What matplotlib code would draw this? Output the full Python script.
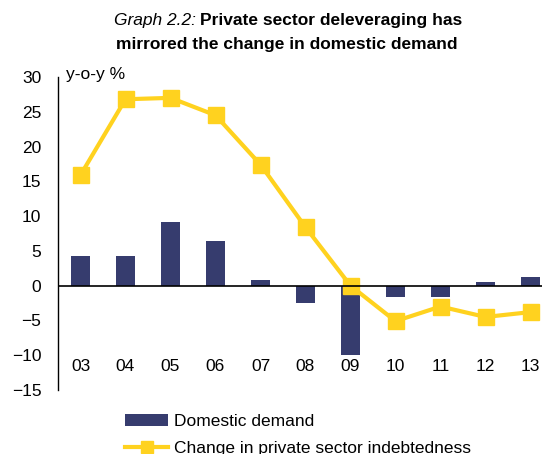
import numpy as np
import matplotlib.pyplot as plt

plt.rcParams['font.family'] = ['Liberation Sans', 'DejaVu Sans']

years = ['03', '04', '05', '06', '07', '08', '09', '10', '11', '12', '13']
dom_demand = [4.3, 4.2, 9.1, 6.4, 0.8, -2.5, -10.0, -1.7, -1.6, 0.5, 1.3]
priv_debt = [15.9, 26.8, 27.0, 24.5, 17.4, 8.4, 0.0, -5.1, -3.0, -4.5, -3.8]

W, H = 542, 454
fig = plt.figure(figsize=(W / 100, H / 100), dpi=100)
ax = fig.add_axes([58 / W, (H - 390) / H, 1 - 58 / W, (390 - 77) / H])

x = np.arange(len(years))
bars = ax.bar(x, dom_demand, width=0.42, color='#363c6e', zorder=2)
line, = ax.plot(x, priv_debt, color='#ffd21f', lw=3, marker='s', markersize=12, zorder=3)

ax.set_xlim(-0.5, -0.5 + (W - 58) / 45)
ax.set_ylim(-15, 30)
ax.set_yticks(range(-15, 31, 5))
ax.tick_params(axis='y', length=0, labelsize=12.5, pad=12)
ax.set_xticks([])
for xi, lab in zip(x, years):
    ax.text(xi, -11.6, lab, ha='center', va='center', fontsize=12.5)

ax.axhline(0, color='black', lw=1.2, zorder=4)
for s in ['top', 'right', 'bottom']:
    ax.spines[s].set_visible(False)
ax.spines['left'].set_linewidth(1.0)

fig.text(66 / W, 1 - 75 / H, 'y-o-y %', fontsize=12.5, ha='left', va='center')

fig.text(196 / W, 1 - 20 / H, 'Graph 2.2:', fontsize=12.5, style='italic', ha='right', va='center')
fig.text(200 / W, 1 - 20 / H, 'Private sector deleveraging has', fontsize=12.5,
         weight='bold', ha='left', va='center')
fig.text(287 / W, 1 - 44 / H, 'mirrored the change in domestic demand', fontsize=12.5,
         weight='bold', ha='center', va='center')

fig.legend([bars, line], ['Domestic demand', 'Change in private sector indebtedness'],
           loc='upper left', bbox_to_anchor=(125 / W, 1 - 414 / H), frameon=False,
           fontsize=12.5, handlelength=2.5, handletextpad=0.3, labelspacing=0.65,
           borderaxespad=0, borderpad=0, markerscale=0.75)

fig.savefig('out.png', dpi=100)
